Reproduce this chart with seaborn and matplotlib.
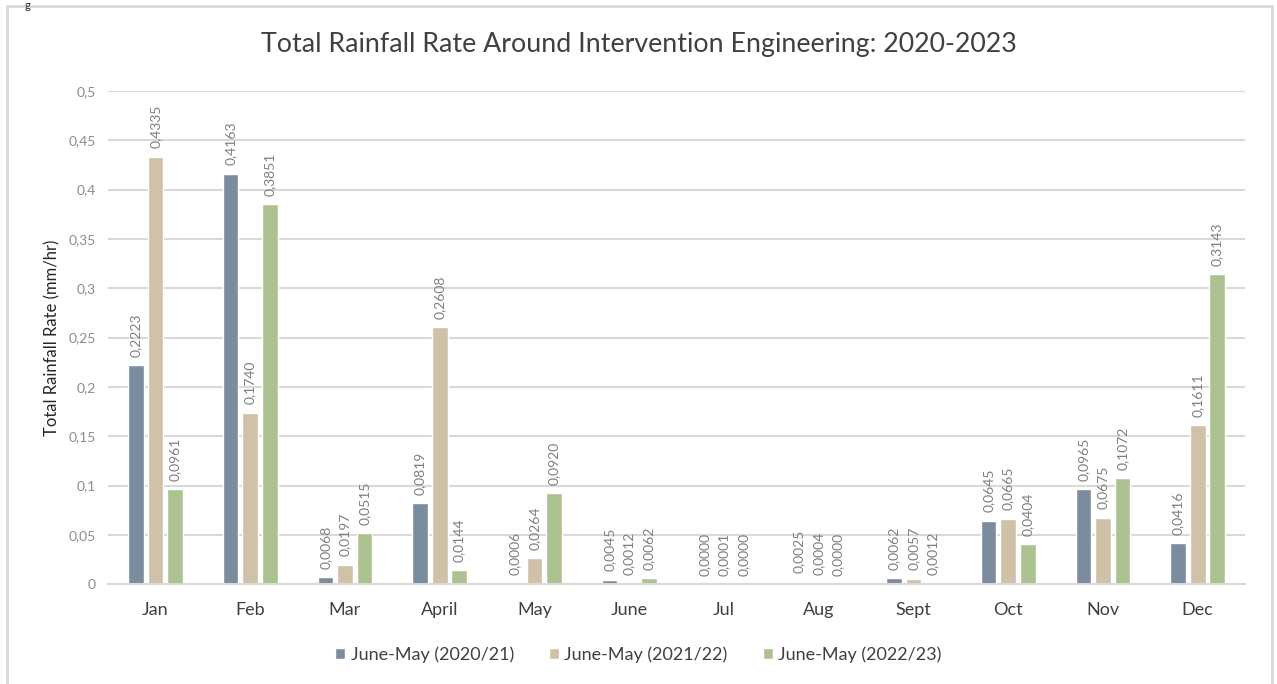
import matplotlib
matplotlib.use("Agg")
import matplotlib.pyplot as plt
import matplotlib.patches as mpatches
import seaborn as sns
import pandas as pd

months = ["Jan", "Feb", "Mar", "April", "May", "June", "Jul", "Aug", "Sept", "Oct", "Nov", "Dec"]
series_names = ["June-May (2020/21)", "June-May (2021/22)", "June-May (2022/23)"]
rain_2020_21 = [0.2223, 0.4163, 0.0068, 0.0819, 0.0006, 0.0045, 0.0000, 0.0025, 0.0062, 0.0645, 0.0965, 0.0416]
rain_2021_22 = [0.4335, 0.1740, 0.0197, 0.2608, 0.0264, 0.0012, 0.0001, 0.0004, 0.0057, 0.0665, 0.0675, 0.1611]
rain_2022_23 = [0.0961, 0.3851, 0.0515, 0.0144, 0.0920, 0.0062, 0.0000, 0.0000, 0.0012, 0.0404, 0.1072, 0.3143]
yticks = [0, 0.05, 0.1, 0.15, 0.2, 0.25, 0.3, 0.35, 0.4, 0.45, 0.5]
colors = ["#7b8c9e", "#cfc2a9", "#adc291"]

df = pd.DataFrame({
    "month": months * 3,
    "season": [s for s in series_names for _ in months],
    "rate": rain_2020_21 + rain_2021_22 + rain_2022_23,
})

sns.set_theme(style="white")
plt.rcParams["font.family"] = ["Lato", "DejaVu Sans"]

fig = plt.figure(figsize=(12.77, 6.84), dpi=100)
ax = fig.add_axes([0.0846, 0.146, 0.8904, 0.721])

sns.barplot(data=df, x="month", y="rate", hue="season", order=months,
            hue_order=series_names, palette=colors, width=0.62, gap=0.2,
            saturation=1, ax=ax, legend=True)

# value labels above each bar
for cont in ax.containers:
    labels = [f"{v:.4f}".replace(".", ",") for v in cont.datavalues]
    ax.bar_label(cont, labels=labels, rotation=90, padding=6, fontsize=10,
                 color="#7f7f7f")

ax.set_ylim(0, 0.5)
ax.set_xlim(-0.5, 11.5)
ax.set_yticks(yticks)
ax.set_yticklabels([f"{t:g}".replace(".", ",") for t in yticks], color="#8c8c8c",
                   fontsize=10)
ax.tick_params(axis="y", length=0, pad=9)
ax.tick_params(axis="x", length=0, pad=13, labelsize=13, labelcolor="#404040")
ax.grid(axis="y", color="#d9d9d9", linewidth=1.5)
ax.set_axisbelow(True)
for side in ["top", "right", "left"]:
    ax.spines[side].set_visible(False)
ax.spines["bottom"].set_color("#d9d9d9")
ax.spines["bottom"].set_linewidth(1.5)

ax.set_xlabel("")
ax.set_ylabel("Total Rainfall Rate (mm/hr)", fontsize=12, color="#262626")
ax.yaxis.set_label_coords(-0.042, 0.5)

fig.text(0.5, 0.935, "Total Rainfall Rate Around Intervention Engineering: 2020-2023",
         ha="center", va="center", fontsize=19.3, color="#404040")

handles, lbls = ax.get_legend_handles_labels()
ax.legend_.remove()
fig.legend(handles, lbls, loc="center", bbox_to_anchor=(0.5, 0.043), ncol=3,
           frameon=False, handlelength=0.55, handleheight=0.55,
           handletextpad=0.3, columnspacing=1.95, labelcolor="#404040",
           prop={"size": 13})

# chart frame
fig.patches.append(mpatches.Rectangle((7 / 1277, -0.05), 1265 / 1277, 1.05 - 6 / 684,
                                      transform=fig.transFigure, fill=False,
                                      edgecolor="#d9d9d9", linewidth=2))
fig.text(25 / 1277, 1.0, "g", ha="left", va="top", fontsize=8, color="#262626")

fig.savefig("out.png", dpi=100)
